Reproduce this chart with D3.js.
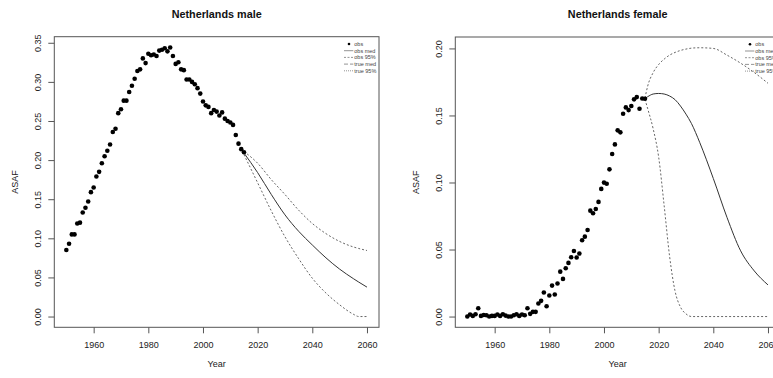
<!DOCTYPE html>
<html>
<head>
<meta charset="utf-8">
<script src="https://cdn.jsdelivr.net/npm/d3@7"></script>
<style>
  body { margin: 0; background: #fff; }
  svg { font-family: "Liberation Sans", Arial, Helvetica, sans-serif; }
</style>
</head>
<body>
<svg id="chart" width="773" height="378"></svg>
<script>
// observed years, shared by both panels
const obsYears = d3.range(1950, 2016);

const maleObs = [
  0.085, 0.093, 0.105, 0.105, 0.119, 0.120, 0.133, 0.139, 0.147, 0.159,
  0.165, 0.179, 0.185, 0.196, 0.205, 0.212, 0.220, 0.236, 0.240, 0.260,
  0.265, 0.276, 0.276, 0.287, 0.295, 0.304, 0.314, 0.316, 0.330, 0.324,
  0.336, 0.334, 0.335, 0.333, 0.340, 0.341, 0.343, 0.339, 0.344, 0.333,
  0.323, 0.325, 0.316, 0.315, 0.303, 0.303, 0.300, 0.297, 0.292, 0.285,
  0.275, 0.270, 0.268, 0.260, 0.264, 0.262, 0.257, 0.261, 0.253, 0.250,
  0.248, 0.245, 0.232, 0.221, 0.214, 0.210
];

const femaleObs = [
  0.0000, 0.0015, 0.0005, 0.0017, 0.0062, 0.0005, 0.0012, 0.0010, 0.0000, 0.0005,
  0.0005, 0.0015, 0.0005, 0.0017, 0.0007, 0.0000, 0.0000, 0.0010, 0.0017, 0.0005,
  0.0015, 0.0010, 0.0062, 0.0020, 0.0035, 0.0035, 0.0097, 0.0117, 0.0179, 0.0077,
  0.0157, 0.0231, 0.0164, 0.0246, 0.0335, 0.0281, 0.0360, 0.0400, 0.0442, 0.0489,
  0.0440, 0.0470, 0.0569, 0.0596, 0.0646, 0.0790, 0.0770, 0.0802, 0.0855, 0.0952,
  0.0999, 0.0991, 0.1098, 0.1212, 0.1284, 0.1389, 0.1374, 0.1513, 0.1560, 0.1540,
  0.1570, 0.1620, 0.1637, 0.1550, 0.1627, 0.1625
];

// projections
const maleProjYears = [2015, 2020, 2025, 2030, 2035, 2040, 2045, 2050, 2055, 2057, 2060];
const maleMed   = [0.209, 0.184, 0.156, 0.130, 0.109, 0.0915, 0.075, 0.0606, 0.0485, 0.044, 0.0376];
const maleUpper = [0.211, 0.196, 0.175, 0.156, 0.136, 0.119, 0.106, 0.096, 0.089, 0.087, 0.0844];
const maleLower = [0.207, 0.171, 0.135, 0.102, 0.074, 0.049, 0.030, 0.015, 0.003, 0, 0];

const femaleProjYears = [2015, 2016, 2018, 2020, 2022, 2024, 2026, 2028, 2030, 2032, 2035, 2040, 2045, 2050, 2055, 2060];
const femaleMed   = [0.1627, 0.164, 0.166, 0.1664, 0.166, 0.1645, 0.1618, 0.157, 0.151, 0.144, 0.130, 0.103, 0.074, 0.049, 0.034, 0.0236];
const femaleUpper = [0.163, 0.172, 0.182, 0.188, 0.192, 0.195, 0.197, 0.1985, 0.1995, 0.2002, 0.2005, 0.200, 0.195, 0.189, 0.182, 0.174];
const femaleLower = [0.162, 0.155, 0.140, 0.119, 0.083, 0.045, 0.019, 0.007, 0.002, 0, 0, 0, 0, 0, 0, 0];

const xTicks = [1960, 1980, 2000, 2020, 2040, 2060];
const maleYTicks = [0, 0.05, 0.10, 0.15, 0.20, 0.25, 0.30, 0.35];
const femaleYTicks = [0, 0.05, 0.10, 0.15, 0.20];

const legendLabels = ["obs", "obs med", "obs 95%", "true med", "true 95%"];

const svg = d3.select("#chart");

// R style axis range: data range padded by 4% on each side
function rRange(vals) {
  let [lo, hi] = d3.extent(vals);
  let pad = (hi - lo) * 0.04;
  return [lo - pad, hi + pad];
}

function drawPanel(p) {
  const g = svg.append("g");
  const x = d3.scaleLinear()
    .domain(rRange([1950, 2060]))
    .range([p.left, p.right]);
  const y = d3.scaleLinear()
    .domain(rRange(p.obs.concat(p.med, p.upper, p.lower)))
    .range([p.bottom, p.top]);

  // title
  g.append("text")
    .attr("x", (p.left + p.right) / 2)
    .attr("y", 18)
    .attr("text-anchor", "middle")
    .attr("font-size", 10.8)
    .attr("font-weight", "bold")
    .attr("fill", "#111")
    .text(p.title);

  // axes
  const xAxis = g.append("g")
    .attr("transform", `translate(0,${p.bottom})`)
    .call(d3.axisBottom(x).tickValues(xTicks).tickFormat(d3.format("d"))
      .tickSize(6).tickPadding(8.4));
  const yAxis = g.append("g")
    .attr("transform", `translate(${p.left},0)`)
    .call(d3.axisLeft(y).tickValues(p.yTicks).tickFormat(d3.format(".2f"))
      .tickSize(6));
  [xAxis, yAxis].forEach(a => {
    a.select(".domain").remove();
    a.selectAll("line").attr("stroke", "#555");
    a.selectAll("text").attr("fill", "#222").attr("font-size", 9)
      .attr("font-family", "Liberation Sans, Arial, sans-serif");
  });
  yAxis.selectAll("text")
    .attr("x", 0).attr("dy", "0.35em")
    .attr("text-anchor", "middle")
    .attr("transform", "translate(-16,0) rotate(-90)");

  // box
  g.append("rect")
    .attr("x", p.left).attr("y", p.top)
    .attr("width", p.right - p.left).attr("height", p.bottom - p.top)
    .attr("fill", "none").attr("stroke", "#555").attr("stroke-width", 1);

  // axis labels
  g.append("text")
    .attr("x", (p.left + p.right) / 2).attr("y", 367)
    .attr("text-anchor", "middle").attr("font-size", 9).attr("fill", "#222")
    .text("Year");
  g.append("text")
    .attr("transform", `translate(${p.left - 36},${(p.top + p.bottom) / 2}) rotate(-90)`)
    .attr("text-anchor", "middle").attr("font-size", 9).attr("fill", "#222")
    .text("ASAF");

  // projections
  const line = d3.line()
    .x(d => x(d[0])).y(d => y(d[1]))
    .curve(d3.curveMonotoneX);
  const zip = vals => p.projYears.map((yr, i) => [yr, vals[i]]);

  g.append("path").attr("d", line(zip(p.upper)))
    .attr("fill", "none").attr("stroke", "#555").attr("stroke-width", 0.9)
    .attr("stroke-dasharray", "2,2");
  g.append("path").attr("d", line(zip(p.lower)))
    .attr("fill", "none").attr("stroke", "#555").attr("stroke-width", 0.9)
    .attr("stroke-dasharray", "2,2");
  g.append("path").attr("d", line(zip(p.med)))
    .attr("fill", "none").attr("stroke", "#333").attr("stroke-width", 1);

  // observations
  g.selectAll("circle.obs")
    .data(p.obs).enter()
    .append("circle")
    .attr("class", "obs")
    .attr("cx", (d, i) => x(obsYears[i]))
    .attr("cy", d => y(d))
    .attr("r", 2.3)
    .attr("fill", "#000");

  // legend, top right inside box
  const lg = g.append("g")
    .attr("transform", `translate(${p.right - 35},${p.top + 7.3})`);
  const dashes = [null, null, "2,1.5", "4,2", "1,1"];
  legendLabels.forEach((lab, i) => {
    const ry = i * 6.7;
    if (i == 0) {
      lg.append("circle").attr("cx", 5).attr("cy", ry).attr("r", 1.3).attr("fill", "#000");
    } else {
      lg.append("line")
        .attr("x1", 0).attr("x2", 9.3).attr("y1", ry).attr("y2", ry)
        .attr("stroke", "#666").attr("stroke-width", 0.7)
        .attr("stroke-dasharray", dashes[i]);
    }
    lg.append("text")
      .attr("x", 10.3).attr("y", ry).attr("dy", "0.35em")
      .attr("font-size", 5.5).attr("fill", "#444")
      .text(lab);
  });
}

drawPanel({
  title: "Netherlands male",
  left: 54.3, right: 379, top: 36.7, bottom: 327.3,
  obs: maleObs, projYears: maleProjYears,
  med: maleMed, upper: maleUpper, lower: maleLower,
  yTicks: maleYTicks
});

drawPanel({
  title: "Netherlands female",
  left: 455.3, right: 780, top: 37, bottom: 327.3,
  obs: femaleObs, projYears: femaleProjYears,
  med: femaleMed, upper: femaleUpper, lower: femaleLower,
  yTicks: femaleYTicks
});
</script>
</body>
</html>
